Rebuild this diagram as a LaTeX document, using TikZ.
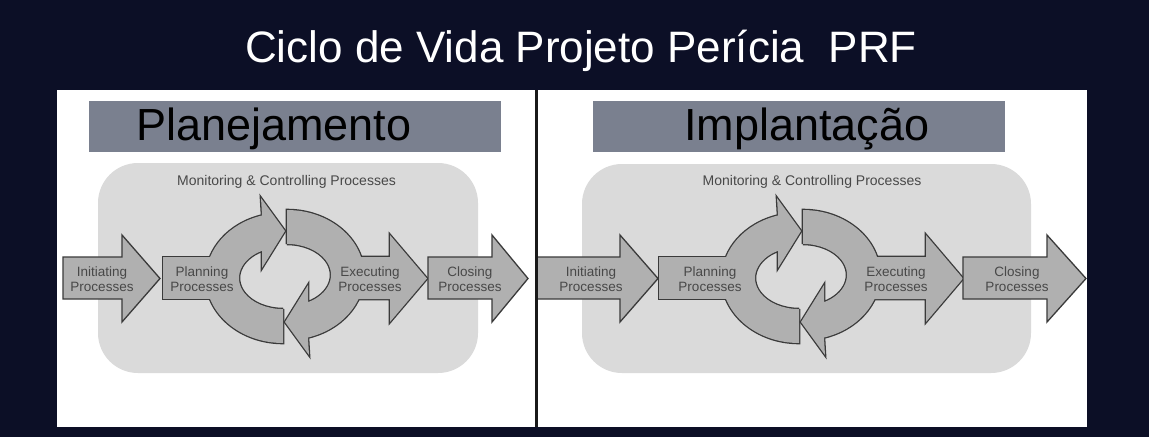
\documentclass[tikz,border=0pt]{standalone}
\usepackage{fontspec}
\setmainfont{Liberation Sans}
\definecolor{navy}{RGB}{12,15,38}
\definecolor{headgray}{RGB}{122,128,143}
\definecolor{panelgray}{RGB}{218,218,218}
\definecolor{arrowgray}{RGB}{176,176,176}
\definecolor{edgegray}{RGB}{58,58,58}
\definecolor{labelgray}{RGB}{72,72,72}
\tikzset{
	outline/.style={draw=edgegray, line width=2.6pt},
	body/.style={fill=arrowgray},
	plain/.style={fill=arrowgray, draw=edgegray, line width=1.3pt},
	proclabel/.style={text=labelgray, font=\fontsize{13.5}{15}\selectfont, align=center, inner sep=0pt},
	montext/.style={text=labelgray, font=\fontsize{14}{16}\selectfont, inner sep=0pt},
	headtext/.style={anchor=base west, inner sep=0pt, font=\fontsize{45}{50}\selectfont},
}
% straight process arrow: style, start, head base, tip
\def\procarrow#1#2#3#4{\path[#1] (#2,257) -- (#3,257) -- (#3,235) -- (#4,278.5) -- (#3,322) -- (#3,299) -- (#2,299) -- cycle;}
% one curved half of the cycle, centred at the origin
\def\cyclearrow#1{\path[#1] (0,31) -- (0,65) arc[start angle=90, end angle=254.2, x radius=77, y radius=65] -- (-22,-80) -- (2,-47) -- (-21,-10) -- (-21,-27.2) arc[start angle=241.5, end angle=90, x radius=44, y radius=31] -- cycle;}

\begin{document}
\begin{tikzpicture}[x=1pt, y=-1pt]
			%%%%% START %%%%%
			\useasboundingbox (0,0) rectangle (1149,437);
			\fill[navy] (0,0) rectangle (1149,437);
			\fill[white] (57,90) rectangle (1087,427);
			
			\node[text=white, anchor=base, font=\fontsize{44}{50}\selectfont] (title) at (581,62) {Ciclo de Vida Projeto Perícia\ \ PRF};
			
			\fill[headgray] (89,101) rectangle (501,152);
			\node[headtext] (plan) at (136,140) {Planejamento};
			\fill[headgray] (593,101) rectangle (1005,152);
			\node[headtext] (impl) at (684,140) {Implantação};
			
			\fill[panelgray, rounded corners=40pt] (98,163) rectangle (478,373);
			\fill[panelgray, rounded corners=40pt] (582,164) rectangle (1031,373);
			\node[montext] (mon1) at (286.5,182) {Monitoring \& Controlling Processes};
			\node[montext] (mon2) at (812,182) {Monitoring \& Controlling Processes};
			
			% left panel
			\procarrow{plain}{63}{122}{160}
			\path[outline] (163,257) rectangle (233,299);
			\begin{scope}[shift={(283,278)}] \cyclearrow{outline} \end{scope}
			\path[body] (163,257) rectangle (233,299);
			\begin{scope}[shift={(283,278)}] \cyclearrow{body} \end{scope}
			\procarrow{outline}{335}{390}{427}
			\begin{scope}[shift={(287,275)}, rotate=180] \cyclearrow{outline} \end{scope}
			\procarrow{body}{335}{390}{427}
			\begin{scope}[shift={(287,275)}, rotate=180] \cyclearrow{body} \end{scope}
			\procarrow{plain}{428}{492}{528}
			
			% right panel
			\procarrow{plain}{537}{620}{658}
			\path[outline] (659,257) rectangle (749,299);
			\begin{scope}[shift={(799,278)}] \cyclearrow{outline} \end{scope}
			\path[body] (659,257) rectangle (749,299);
			\begin{scope}[shift={(799,278)}] \cyclearrow{body} \end{scope}
			\procarrow{outline}{851}{926}{963}
			\begin{scope}[shift={(803,275)}, rotate=180] \cyclearrow{outline} \end{scope}
			\procarrow{body}{851}{926}{963}
			\begin{scope}[shift={(803,275)}, rotate=180] \cyclearrow{body} \end{scope}
			\procarrow{plain}{963}{1047}{1086}
			
			\node[proclabel] (init1) at (102,279.5) {Initiating\\Processes};
			\node[proclabel] (plan1) at (202,279.5) {Planning\\Processes};
			\node[proclabel] (exec1) at (370,279.5) {Executing\\Processes};
			\node[proclabel] (clos1) at (470,279.5) {Closing\\Processes};
			\node[proclabel] (init2) at (591,279.5) {Initiating\\Processes};
			\node[proclabel] (plan2) at (710,279.5) {Planning\\Processes};
			\node[proclabel] (exec2) at (896,279.5) {Executing\\Processes};
			\node[proclabel] (clos2) at (1017,279.5) {Closing\\Processes};
			
			\draw[line width=3pt, color=black!90] (536,90) -- (536,427);
			%%%%% END %%%%%
\end{tikzpicture}
\end{document}
